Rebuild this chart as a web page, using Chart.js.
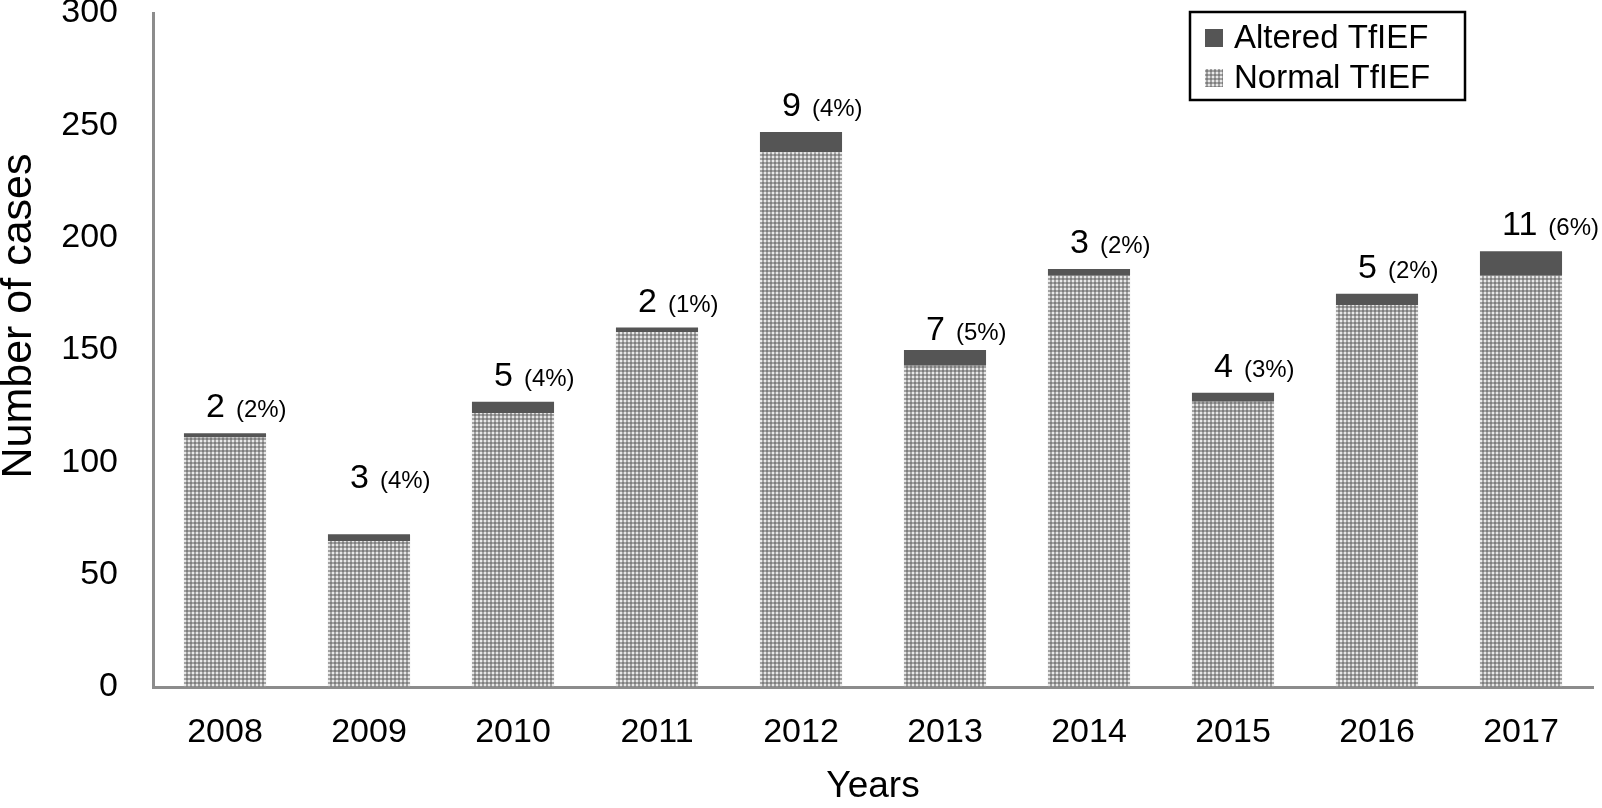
<!DOCTYPE html>
<html><head><meta charset="utf-8">
<script src="https://cdn.jsdelivr.net/npm/chart.js@4/dist/chart.umd.min.js"></script>
<style>html,body{margin:0;padding:0;background:#fff;} #wrap{width:1602px;height:808px;}</style>
</head><body><div id="wrap"><canvas id="c" width="1602" height="808"></canvas></div>
<script>
const years = ['2008','2009','2010','2011','2012','2013','2014','2015','2016','2017'];
const normalCases = [111, 65, 122, 158, 238, 143, 183, 127, 170, 183];
const alteredCases = [2, 3, 5, 2, 9, 7, 3, 4, 5, 11];
const alteredPctLabels = ['(2%)','(4%)','(4%)','(1%)','(4%)','(5%)','(2%)','(3%)','(2%)','(6%)'];
const yTicks = [0, 50, 100, 150, 200, 250, 300];
const yTitle = 'Number of cases';
const xTitle = 'Years';

const FONT = '"Liberation Sans", Arial, Helvetica, sans-serif';

function makePattern(){
  const c = document.createElement('canvas'); c.width = 4; c.height = 4;
  const g = c.getContext('2d');
  g.fillStyle = '#a2a2a2'; g.fillRect(0,0,4,4);
  g.fillStyle = '#e8e8e8'; g.fillRect(0,0,2,2);
  g.fillStyle = '#7e7e7e'; g.fillRect(2,2,2,2);
  return g.createPattern(c, 'repeat');
}
const normalFill = makePattern();
const alteredFill = '#555555';

// label placement tweaks (style only): extra lift for the 2009 label
const labelLift = { 1: 30, 5: -6 };

const barLabels = {
  id: 'barLabels',
  afterDatasetsDraw(chart){
    const ctx = chart.ctx;
    const meta = chart.getDatasetMeta(1);
    ctx.save();
    ctx.fillStyle = '#000';
    ctx.textBaseline = 'alphabetic';
    ctx.textAlign = 'left';
    meta.data.forEach((bar, i) => {
      const x0 = bar.x - 19, y0 = bar.y - 16 - (labelLift[i] || 0);
      ctx.font = '34px ' + FONT;
      const n = String(alteredCases[i]);
      ctx.fillText(n, x0, y0);
      const w = ctx.measureText(n).width;
      ctx.font = '24px ' + FONT;
      ctx.fillText(alteredPctLabels[i], x0 + w + 11, y0);
    });
    ctx.restore();
  }
};

const yTitlePlugin = {
  id: 'yTitlePlugin',
  afterDraw(chart){
    const ctx = chart.ctx;
    const area = chart.chartArea;
    ctx.save();
    ctx.translate(19, (area.top + area.bottom) / 2 - 34);
    ctx.rotate(-Math.PI / 2);
    ctx.fillStyle = '#000';
    ctx.font = '43px ' + FONT;
    ctx.textAlign = 'center';
    ctx.textBaseline = 'middle';
    ctx.fillText(yTitle, 0, 0);
    ctx.restore();
  }
};

const boxLegend = {
  id: 'boxLegend',
  afterDraw(chart){
    const ctx = chart.ctx;
    const x = 1190, y = 12, w = 275, h = 88;
    ctx.save();
    ctx.fillStyle = '#fff'; ctx.fillRect(x, y, w, h);
    ctx.lineWidth = 2.5; ctx.strokeStyle = '#000'; ctx.strokeRect(x, y, w, h);
    const items = [chart.data.datasets[1], chart.data.datasets[0]];
    items.forEach((ds, i) => {
      const cy = y + 26 + i * 40;
      ctx.fillStyle = ds.backgroundColor; ctx.fillRect(x + 15, cy - 9, 18, 18);
      ctx.fillStyle = '#000'; ctx.font = '33px ' + FONT; ctx.textBaseline = 'middle'; ctx.textAlign = 'left';
      ctx.fillText(ds.label, x + 44, cy + 1);
    });
    ctx.restore();
  }
};

new Chart(document.getElementById('c'), {
  type: 'bar',
  data: {
    labels: years,
    datasets: [
      { label: 'Normal TfIEF', data: normalCases, backgroundColor: normalFill, borderWidth: 0 },
      { label: 'Altered TfIEF', data: alteredCases, backgroundColor: alteredFill, borderWidth: 0 }
    ]
  },
  options: {
    responsive: false,
    animation: false,
    devicePixelRatio: 1,
    layout: { padding: { top: 13, right: 9, left: 0, bottom: 0 } },
    datasets: { bar: { categoryPercentage: 1.0, barPercentage: 0.57 } },
    plugins: { legend: { display: false }, tooltip: { enabled: false } },
    scales: {
      x: {
        stacked: true,
        grid: { display: false, drawTicks: false },
        border: { display: true, color: '#8c8c8c', width: 3 },
        ticks: { color: '#000', font: { size: 34, family: FONT }, padding: 25, maxRotation: 0 },
        title: { display: true, text: xTitle, color: '#000', font: { size: 37, family: FONT, lineHeight: 1 }, padding: { top: 14, bottom: 3 } },
        afterFit(s){ s.height = 121; }
      },
      y: {
        stacked: true,
        min: 0, max: 300,
        grid: { display: true, drawOnChartArea: false, drawTicks: true, tickLength: 35, color: 'rgba(0,0,0,0)' },
        border: { display: true, color: '#8c8c8c', width: 3 },
        afterBuildTicks(s){ s.ticks = yTicks.map(v => ({ value: v })); },
        ticks: { color: '#000', font: { size: 34, family: FONT, lineHeight: 0.75 }, padding: 0 },
        title: { display: false },
        afterFit(s){ s.width = 153; }
      }
    }
  },
  plugins: [barLabels, yTitlePlugin, boxLegend]
});
</script>
</body></html>
